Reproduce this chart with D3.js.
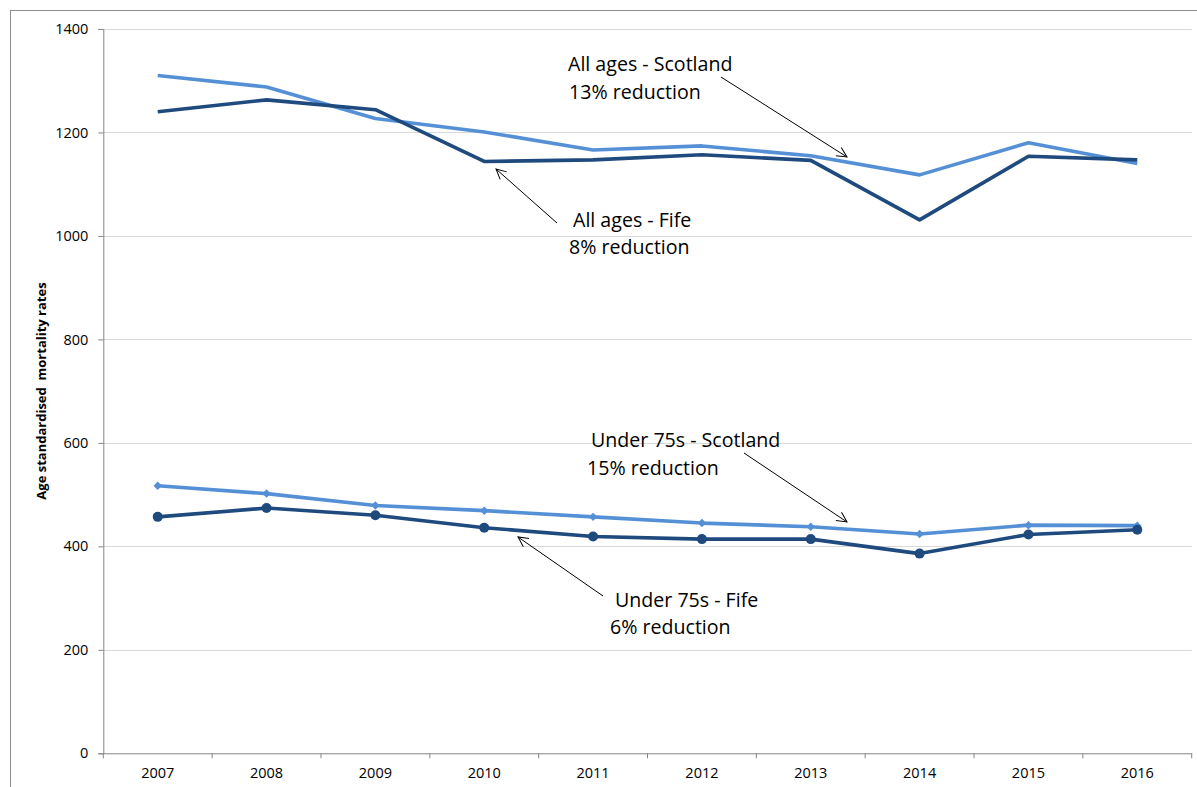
<!DOCTYPE html>
<html><head><meta charset="utf-8">
<script src="https://cdn.jsdelivr.net/npm/d3@7"></script>
<style>
body{margin:0;background:#fff;}
svg{display:block;font-family:"Open Sans",sans-serif;}
</style></head>
<body><svg id="c" width="1197" height="787"></svg>
<script>
const years = ["2007","2008","2009","2010","2011","2012","2013","2014","2015","2016"];
const allScotland = [1310,1288,1227,1201,1166,1174,1155,1118,1180,1140];
const allFife = [1240,1263,1244,1144,1147,1157,1146,1031,1154,1147];
const u75Scotland = [517,502,479,469,457,445,438,424,441,440];
const u75Fife = [457,474,460,436,419,414,414,386,423,432];
const yTicks = [0,200,400,600,800,1000,1200,1400];
const yTitle = "Age standardised  mortality rates";

const svg = d3.select("#c");
const L = 103.3, R = 1191.7, T = 29, B = 753.3;
const x = d3.scaleBand().domain(years).range([L, R]).padding(0);
const y = d3.scaleLinear().domain([0,1400]).range([B, T]);
const cx = d => x(d) + x.bandwidth()/2;

const dark = "#1F4A7E", light = "#5590D6", axisCol = "#868686";

// outer border
svg.append("rect").attr("x",10.5).attr("y",10.5).attr("width",1300).attr("height",900)
  .attr("fill","none").attr("stroke","#8c8c8c").attr("stroke-width",1);

// gridlines
svg.append("g").selectAll("line").data(yTicks.filter(t=>t>0)).join("line")
  .attr("x1",L).attr("x2",R).attr("y1",d=>Math.round(y(d))+0.5).attr("y2",d=>Math.round(y(d))+0.5)
  .attr("stroke","#d9d9d9").attr("stroke-width",1);

// y axis
const ya = svg.append("g").attr("transform",`translate(${L},0)`)
  .call(d3.axisLeft(y).tickValues(yTicks).tickSize(5).tickPadding(10).tickFormat(d3.format("d")));
ya.select(".domain").attr("stroke",axisCol);
ya.selectAll(".tick line").attr("stroke",axisCol);
ya.selectAll("text").attr("font-size",14.5).attr("fill","#000").attr("font-family","Open Sans");

// x axis
const xa = svg.append("g").attr("transform",`translate(0,${B})`)
  .call(d3.axisBottom(x).tickSize(0).tickPadding(14));
xa.select(".domain").attr("stroke",axisCol);
xa.selectAll("text").attr("font-size",14.5).attr("fill","#000").attr("font-family","Open Sans");
svg.append("g").selectAll("line").data(years.map(d=>x(d)).concat([R])).join("line")
  .attr("x1",d=>d).attr("x2",d=>d).attr("y1",B).attr("y2",B+5).attr("stroke",axisCol);

// y title
svg.append("text").attr("transform","translate(46,391) rotate(-90)")
  .attr("text-anchor","middle").attr("font-size",13).attr("font-weight","bold")
  .attr("xml:space","preserve").style("white-space","pre").text(yTitle);

const line = d3.line().x((d,i)=>cx(years[i])).y(d=>y(d));
function drawLine(vals,col){
  svg.append("path").datum(vals).attr("d",line).attr("fill","none")
    .attr("stroke",col).attr("stroke-width",3.6).attr("stroke-linejoin","round");
}
drawLine(allScotland, light);
drawLine(allFife, dark);
drawLine(u75Scotland, light);
drawLine(u75Fife, dark);

svg.append("g").selectAll("path").data(u75Scotland).join("path")
  .attr("d",d3.symbol(d3.symbolSquare,36)).attr("fill",light)
  .attr("transform",(d,i)=>`translate(${cx(years[i])},${y(d)}) rotate(45)`);
svg.append("g").selectAll("circle").data(u75Fife).join("circle")
  .attr("cx",(d,i)=>cx(years[i])).attr("cy",d=>y(d)).attr("r",5).attr("fill",dark);

// annotations
const ann = [
  {t:["All ages - Scotland","13% reduction"], xs:[568,569], ys:[71,99], a:[721,77,847,157]},
  {t:["All ages - Fife","8% reduction"], xs:[573,569], ys:[227,254], a:[557,223,496,169]},
  {t:["Under 75s - Scotland","15% reduction"], xs:[591,587], ys:[447,475], a:[744,453,847,522]},
  {t:["Under 75s - Fife","6% reduction"], xs:[615,610], ys:[607,634], a:[603,596,518,537]}
];
svg.append("defs").append("marker").attr("id","ah").attr("viewBox","0 0 12 12")
  .attr("refX",11).attr("refY",6).attr("markerWidth",12).attr("markerHeight",12)
  .attr("markerUnits","userSpaceOnUse").attr("orient","auto")
  .append("path").attr("d","M1,1 L11,6 L1,11").attr("fill","none").attr("stroke","#000").attr("stroke-width",1);
ann.forEach(a=>{
  a.t.forEach((s,i)=>svg.append("text").attr("x",a.xs[i]).attr("y",a.ys[i])
    .attr("font-size",19.6).attr("fill","#000").text(s));
  svg.append("line").attr("x1",a.a[0]).attr("y1",a.a[1]).attr("x2",a.a[2]).attr("y2",a.a[3])
    .attr("stroke","#000").attr("stroke-width",1).attr("marker-end","url(#ah)");
});
</script></body></html>
